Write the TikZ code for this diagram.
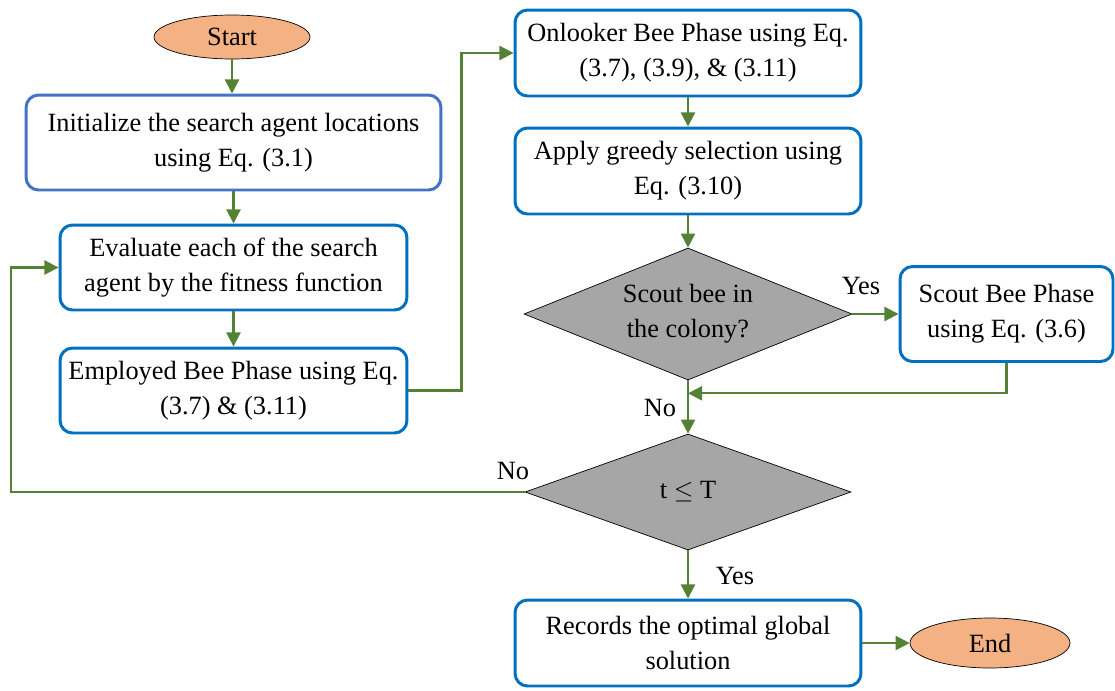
\documentclass[tikz,border=0pt]{standalone}
\usepackage{fontspec}
\setmainfont{Liberation Serif}
\usepackage{tikz}
\usetikzlibrary{shapes.geometric}
\usetikzlibrary{arrows.meta}
\definecolor{beeorange}{HTML}{F4B183}
\definecolor{beeblue}{HTML}{0070C0}
\definecolor{initblue}{HTML}{4472C4}
\definecolor{beegreen}{HTML}{548235}
\definecolor{beegray}{HTML}{A6A6A6}
\tikzset{
  terminal/.style={ellipse, draw=black, thin, fill=beeorange, inner sep=0pt},
  process/.style={rectangle, rounded corners=0.25cm, draw=beeblue, line width=1.7pt, fill=white, align=center, inner sep=0pt},
  decision/.style={diamond, aspect=2.5, draw=black, thin, fill=beegray, align=center, inner sep=0pt},
  flow/.style={draw=beegreen, line width=1.2pt, -{Triangle[length=8pt,width=8pt]}},
}

\begin{document}
\begin{tikzpicture}[x=0.02cm,y=-0.02cm,font=\fontsize{15}{20}\selectfont]
\useasboundingbox (0,0) rectangle (1115,690);

\node [terminal, minimum width=3.12cm, minimum height=0.88cm] (start) at (232,37) {Start};
\node [process, draw=initblue, minimum width=8.3cm, minimum height=1.9cm] (init) at (233.5,142.5)
  {Initialize the search agent locations\\using Eq. (3.1)};
\node [process, minimum width=6.94cm, minimum height=1.7cm] (eval) at (233.5,267.5)
  {Evaluate each of the search\\agent by the fitness function};
\node [process, minimum width=6.94cm, minimum height=1.7cm] (employ) at (233.5,390.5)
  {Employed Bee Phase using Eq.\\(3.7) \& (3.11)};
\node [process, minimum width=6.92cm, minimum height=1.72cm] (onlook) at (688,53)
  {Onlooker Bee Phase using Eq.\\(3.7), (3.9), \& (3.11)};
\node [process, minimum width=6.92cm, minimum height=1.72cm] (greedy) at (688,171)
  {Apply greedy selection using\\Eq. (3.10)};
\node [decision, minimum width=6.56cm, minimum height=2.64cm] (scoutq) at (688,314)
  {Scout bee in\\the colony?};
\node [process, minimum width=4.26cm, minimum height=1.9cm] (scout) at (1006.5,314)
  {Scout Bee Phase\\using Eq. (3.6)};
\node [decision, minimum width=6.52cm, minimum height=2.32cm] (iter) at (688,492)
  {t $\leq$ T};
\node [process, minimum width=6.92cm, minimum height=1.72cm] (record) at (688,643)
  {Records the optimal global\\solution};
\node [terminal, minimum width=3.2cm, minimum height=1cm] (end) at (990,643) {End};

% connectors
\draw [flow] (start.south) -- (start.south |- init.north);
\draw [flow] (init.south) -- (eval.north);
\draw [flow] (eval.south) -- (employ.north);
\draw [flow] (employ.east) -- +(53,0) |- (onlook.west);
\draw [flow] (onlook.south) -- (greedy.north);
\draw [flow] (greedy.south) -- (scoutq.north);
\draw [flow] (scoutq.east) -- (scout.west);
\draw [flow] (scout.south) |- ([yshift=-0.26cm]scoutq.south);
\draw [flow] (scoutq.south) -- (iter.north);
\draw [flow] (iter.west) -- +(-514,0) |- (eval.west);
\draw [flow] (iter.south) -- (record.north);
\draw [flow] (record.east) -- (end.west);

% labels
\node (yes1) at (861,286) {Yes};
\node (no1) at (660,408) {No};
\node (no2) at (513,471) {No};
\node (yes2) at (735,576) {Yes};
\end{tikzpicture}
\end{document}
